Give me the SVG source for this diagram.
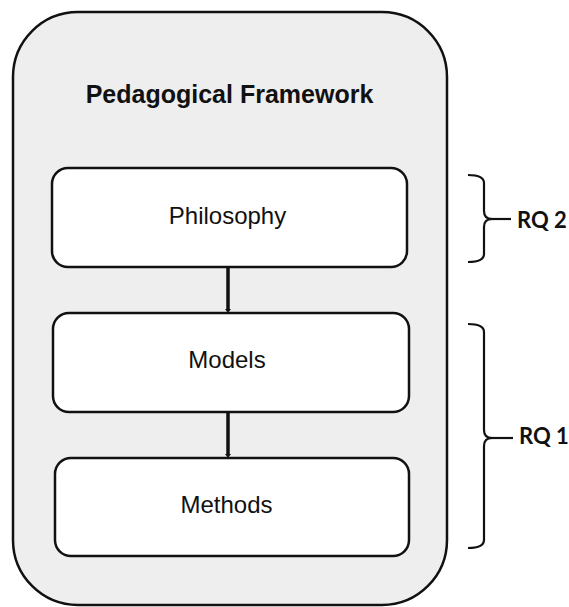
<svg xmlns="http://www.w3.org/2000/svg" width="569" height="607" viewBox="0 0 569 607">
<style>
.box{fill:#ffffff;stroke:#111;stroke-width:2.5}
.lbl{font-family:"Liberation Sans",Arial,sans-serif;font-size:24px;fill:#111;text-anchor:middle}
.conn{stroke:#111;stroke-width:3.5;fill:none}
.br{stroke:#111;stroke-width:2.2;fill:none}
.rq{font-family:Lato,"Liberation Sans",sans-serif;font-weight:bold;font-size:22px;fill:#111}
</style>
<rect width="569" height="607" fill="#ffffff"/>
<g id="framework">
<rect x="13" y="12" width="434" height="593" rx="65" fill="#eeeeee" stroke="#111" stroke-width="2.5"/>
<text x="229.5" y="103" font-family="Liberation Sans,Arial,sans-serif" font-weight="bold" font-size="25" text-anchor="middle" fill="#111">Pedagogical Framework</text>
</g>
<g id="philosophy">
<rect class="box" x="52" y="168" width="355" height="99" rx="16"/>
<text class="lbl" x="227.5" y="224">Philosophy</text>
</g>
<g id="models">
<rect class="box" x="53" y="313" width="356" height="99" rx="16"/>
<text class="lbl" x="227" y="368">Models</text>
</g>
<g id="methods">
<rect class="box" x="55" y="458" width="354" height="98" rx="16"/>
<text class="lbl" x="226.5" y="513">Methods</text>
</g>
<g id="connectors">
<line class="conn" x1="228" y1="268" x2="228" y2="310"/>
<path d="M225,309 L231,309 L228,313 Z" fill="#111"/>
<line class="conn" x1="228" y1="413" x2="228" y2="455"/>
<path d="M225,454 L231,454 L228,458 Z" fill="#111"/>
</g>
<g id="rq2">
<path class="br" d="M468,175 Q484,175 484,183 L484,211 Q484,219 492,219 Q484,219 484,227 L484,254 Q484,262 468,262"/>
<line class="br" x1="490" y1="219" x2="511" y2="219"/>
<text class="rq" x="517" y="228">RQ 2</text>
</g>
<g id="rq1">
<path class="br" d="M468,324 Q484,324 484,332 L484,430 Q484,438 492,438 Q484,438 484,446 L484,540 Q484,548 468,548"/>
<line class="br" x1="490" y1="438" x2="513" y2="438"/>
<text class="rq" x="519" y="444">RQ 1</text>
</g>
</svg>
